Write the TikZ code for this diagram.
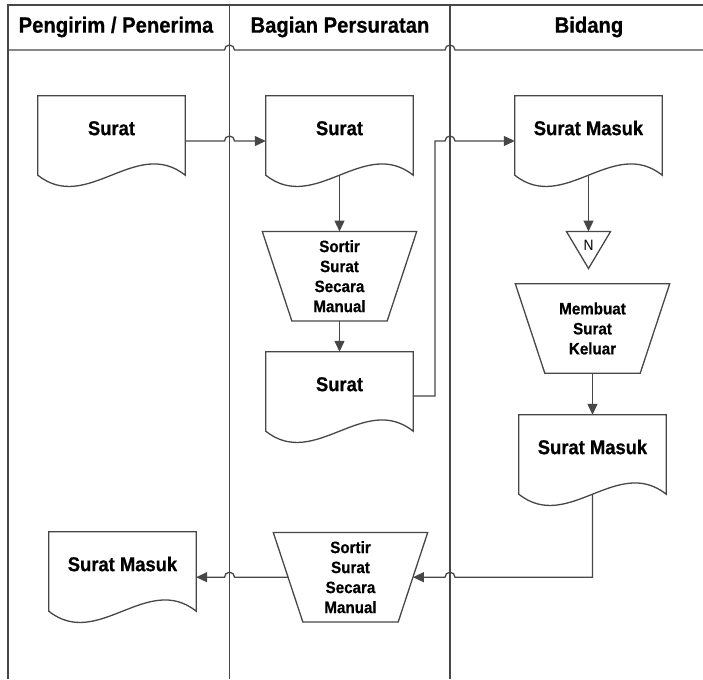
\documentclass[tikz,border=0pt]{standalone}
\usepackage{fontspec}
\setmainfont{Liberation Sans}[FakeStretch=0.92, BoldFeatures={FakeBold=0.6}]
\usetikzlibrary{calc,arrows.meta}
\begin{document}
\begin{tikzpicture}[x=1pt,y=-1pt,
  stroke/.style={draw=black!72, line width=1.3pt},
  conn/.style={stroke, line join=miter},
  arrowed/.style={conn, -{Triangle[length=11pt,width=10pt]}},
  doc/.style={minimum width=147pt, minimum height=79pt, inner sep=0pt,
    text height=14.3pt, text depth=15pt, font=\fontsize{20}{22}\selectfont\bfseries},
  proc/.style={minimum width=154pt, minimum height=89pt, inner sep=0pt,
    align=center, font=\fontsize{16.5}{20}\selectfont\bfseries},
  lanehead/.style={inner sep=0pt, font=\fontsize{22}{24}\selectfont\bfseries},
  store/.style={minimum width=43.7pt, minimum height=36.6pt, inner sep=0pt,
    text height=10.7pt, text depth=10pt, font=\fontsize{15}{17}\selectfont},
]
\useasboundingbox (0,0) rectangle (703,679);

% lane separators
\coordinate (s1) at (229.5,5);
\coordinate (s2) at (450,5);
\coordinate (riser) at (435,5);

% swimlane frame
\draw[stroke] (8,679) -- (8,5) -- (703,5);
\draw[stroke] (s1) -- (229.5,679);
\draw[stroke] (s2) -- (450,679);
\draw[stroke] (8,50) -- (224.5,50) arc[start angle=180, end angle=0, radius=5pt]
  -- (445,50) arc[start angle=180, end angle=0, radius=5pt] -- (703,50);

% lane titles
\node[lanehead] (h1) at (116,27) {Pengirim / Penerima};
\node[lanehead] (h2) at (340,27) {Bagian Persuratan};
\node[lanehead] (h3) at (589,27) {Bidang};

% documents
\node[doc] (d1) at (111.5,135.5) {Surat};
\node[doc] (d2) at (339.5,135.5) {Surat};
\node[doc] (d3) at (339.5,391.5) {Surat};
\node[doc] (d4) at (588.5,135.5) {Surat Masuk};
\node[doc] (d5) at (592.5,454.5) {Surat Masuk};
\node[doc] (d6) at (122.5,571.5) {Surat Masuk};
\foreach \n in {d1,d2,d3,d4,d5,d6}
  \draw[stroke] (\n.north west) -- (\n.north east) -- (\n.south east)
    .. controls ($(\n.south east)+(-49,-39)$) and ($(\n.south west)+(49,39)$) .. (\n.south west)
    -- cycle;

% manual operations
\node[proc] (t1) at (339.5,276.2) {Sortir\\Surat\\Secara\\Manual};
\node[proc] (t2) at (592.5,328.5) {Membuat\\Surat\\Keluar};
\node[proc] (t3) at (350.5,577.2) {Sortir\\Surat\\Secara\\Manual};
\foreach \n in {t1,t2,t3}
  \draw[stroke] (\n.north west) -- (\n.north east) -- ($(\n.south east)+(-29.5,0)$)
    -- ($(\n.south west)+(29.5,0)$) -- cycle;

% offline storage
\node[store] (tri) at (588.5,250) {N};
\draw[stroke] (tri.north west) -- (tri.north east) -- (tri.south) -- cycle;

% flow
\draw[arrowed] ([yshift=-5.5pt]d1.east) -- ($(s1 |- d1.east)+(-5,5.5)$)
  arc[start angle=180, end angle=0, radius=5pt] -- ([yshift=-5.5pt]d2.west);
\draw[arrowed] (d2.south) -- (t1.north);
\draw[arrowed] (t1.south) -- (d3.north);
\draw[arrowed] ([yshift=-4.5pt]d3.east) -- ($(riser |- d3.east)+(0,4.5)$)
  -- ($(riser |- d4.west)+(0,5.5)$) -- ($(s2 |- d4.west)+(-5,5.5)$)
  arc[start angle=180, end angle=0, radius=5pt] -- ([yshift=-5.5pt]d4.west);
\draw[arrowed] (d4.south) -- (tri.north);
\draw[arrowed] (t2.south) -- (d5.north);
\draw[arrowed] (d5.south) -- (d5.south |- t3.east) -- ($(s2 |- t3.east)+(5,0)$)
  arc[start angle=0, end angle=180, radius=5pt] -- ($(t3.east)+(-14.75,0)$);
\draw[arrowed] ($(t3.west)+(14.75,0)$) -- ($(s1 |- t3.west)+(5,0)$)
  arc[start angle=0, end angle=180, radius=5pt] -- (d6.east |- t3.west);
\end{tikzpicture}
\end{document}
